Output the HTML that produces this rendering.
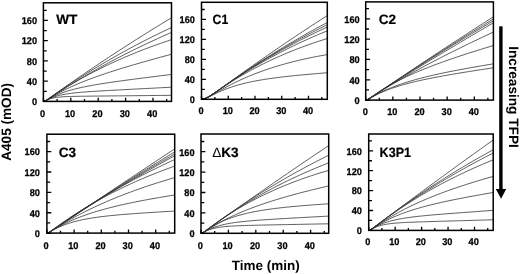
<!DOCTYPE html>
<html><head><meta charset="utf-8"><style>
html,body{margin:0;padding:0;background:#fff;}
body{width:520px;height:274px;overflow:hidden;}
svg{display:block;filter:grayscale(1) blur(0.35px);}
text{font-family:"Liberation Sans",sans-serif;font-weight:bold;fill:#000;text-rendering:geometricPrecision;}
.c{fill:none;stroke:#333;stroke-width:0.8;}
.t{fill:none;stroke:#000;stroke-width:1.3;}
.fr{fill:none;stroke:#000;stroke-width:1.5;}
.yl{font-size:9.2px;text-anchor:end;stroke:#000;stroke-width:0.25px;}
.xl{font-size:9.2px;text-anchor:middle;stroke:#000;stroke-width:0.25px;}
.ti{font-size:13.6px;stroke:#000;stroke-width:0.2px;}
.dl{font-weight:normal;stroke-width:0;}
.ax{font-size:13px;}
</style></head><body>
<svg width="520" height="274" viewBox="0 0 520 274">
<path d="M43.4,101.4 L45.57,100.62 L47.74,99.22 L49.91,97.7 L52.08,96.16 L54.26,94.61 L56.43,93.07 L58.6,91.53 L60.77,90 L62.94,88.47 L65.11,86.95 L67.28,85.43 L69.45,83.92 L71.63,82.41 L73.8,80.91 L75.97,79.41 L78.14,77.91 L80.31,76.42 L82.48,74.94 L84.65,73.46 L86.82,71.98 L88.99,70.51 L91.17,69.04 L93.34,67.58 L95.51,66.12 L97.68,64.66 L99.85,63.21 L102.02,61.77 L104.19,60.33 L106.36,58.89 L108.54,57.46 L110.71,56.03 L112.88,54.6 L115.05,53.19 L117.22,51.77 L119.39,50.36 L121.56,48.95 L123.73,47.55 L125.91,46.15 L128.08,44.76 L130.25,43.37 L132.42,41.99 L134.59,40.6 L136.76,39.23 L138.93,37.85 L141.1,36.49 L143.27,35.12 L145.45,33.76 L147.62,32.41 L149.79,31.05 L151.96,29.71 L154.13,28.36 L156.3,27.02 L158.47,25.69 L160.64,24.36 L162.82,23.03 L164.99,21.71 L167.16,20.39 L169.33,19.07 L171.5,17.76" class="c"/>
<path d="M43.4,101.4 L45.57,100.63 L47.74,99.24 L49.91,97.74 L52.08,96.22 L54.26,94.71 L56.43,93.21 L58.6,91.72 L60.77,90.24 L62.94,88.77 L65.11,87.31 L67.28,85.87 L69.45,84.43 L71.63,83 L73.8,81.59 L75.97,80.18 L78.14,78.79 L80.31,77.4 L82.48,76.03 L84.65,74.66 L86.82,73.31 L88.99,71.97 L91.17,70.63 L93.34,69.31 L95.51,67.99 L97.68,66.68 L99.85,65.39 L102.02,64.1 L104.19,62.82 L106.36,61.56 L108.54,60.3 L110.71,59.05 L112.88,57.81 L115.05,56.58 L117.22,55.35 L119.39,54.14 L121.56,52.93 L123.73,51.74 L125.91,50.55 L128.08,49.37 L130.25,48.2 L132.42,47.04 L134.59,45.89 L136.76,44.75 L138.93,43.61 L141.1,42.48 L143.27,41.36 L145.45,40.25 L147.62,39.15 L149.79,38.05 L151.96,36.97 L154.13,35.89 L156.3,34.82 L158.47,33.75 L160.64,32.7 L162.82,31.65 L164.99,30.61 L167.16,29.58 L169.33,28.55 L171.5,27.53" class="c"/>
<path d="M43.4,101.4 L45.57,100.66 L47.74,99.33 L49.91,97.9 L52.08,96.46 L54.26,95.02 L56.43,93.59 L58.6,92.18 L60.77,90.78 L62.94,89.4 L65.11,88.02 L67.28,86.66 L69.45,85.31 L71.63,83.97 L73.8,82.64 L75.97,81.32 L78.14,80.02 L80.31,78.72 L82.48,77.44 L84.65,76.16 L86.82,74.9 L88.99,73.65 L91.17,72.4 L93.34,71.17 L95.51,69.95 L97.68,68.74 L99.85,67.53 L102.02,66.34 L104.19,65.16 L106.36,63.98 L108.54,62.81 L110.71,61.66 L112.88,60.51 L115.05,59.37 L117.22,58.24 L119.39,57.11 L121.56,56 L123.73,54.89 L125.91,53.79 L128.08,52.7 L130.25,51.62 L132.42,50.54 L134.59,49.47 L136.76,48.41 L138.93,47.36 L141.1,46.31 L143.27,45.27 L145.45,44.24 L147.62,43.22 L149.79,42.2 L151.96,41.19 L154.13,40.18 L156.3,39.18 L158.47,38.19 L160.64,37.2 L162.82,36.22 L164.99,35.25 L167.16,34.28 L169.33,33.32 L171.5,32.36" class="c"/>
<path d="M43.4,101.4 L45.57,100.65 L47.74,99.32 L49.91,97.88 L52.08,96.43 L54.26,95 L56.43,93.58 L58.6,92.19 L60.77,90.81 L62.94,89.45 L65.11,88.1 L67.28,86.78 L69.45,85.47 L71.63,84.17 L73.8,82.9 L75.97,81.64 L78.14,80.4 L80.31,79.17 L82.48,77.96 L84.65,76.76 L86.82,75.58 L88.99,74.42 L91.17,73.27 L93.34,72.13 L95.51,71.01 L97.68,69.91 L99.85,68.81 L102.02,67.74 L104.19,66.67 L106.36,65.62 L108.54,64.58 L110.71,63.56 L112.88,62.55 L115.05,61.55 L117.22,60.57 L119.39,59.6 L121.56,58.64 L123.73,57.69 L125.91,56.76 L128.08,55.83 L130.25,54.92 L132.42,54.02 L134.59,53.14 L136.76,52.26 L138.93,51.39 L141.1,50.54 L143.27,49.7 L145.45,48.87 L147.62,48.05 L149.79,47.24 L151.96,46.43 L154.13,45.65 L156.3,44.87 L158.47,44.1 L160.64,43.34 L162.82,42.59 L164.99,41.85 L167.16,41.12 L169.33,40.39 L171.5,39.68" class="c"/>
<path d="M43.4,101.4 L45.57,100.68 L47.74,99.4 L49.91,98.06 L52.08,96.75 L54.26,95.47 L56.43,94.24 L58.6,93.04 L60.77,91.88 L62.94,90.76 L65.11,89.67 L67.28,88.61 L69.45,87.59 L71.63,86.59 L73.8,85.61 L75.97,84.66 L78.14,83.73 L80.31,82.83 L82.48,81.94 L84.65,81.08 L86.82,80.23 L88.99,79.4 L91.17,78.59 L93.34,77.79 L95.51,77 L97.68,76.23 L99.85,75.47 L102.02,74.72 L104.19,73.99 L106.36,73.26 L108.54,72.54 L110.71,71.84 L112.88,71.14 L115.05,70.45 L117.22,69.77 L119.39,69.09 L121.56,68.42 L123.73,67.76 L125.91,67.1 L128.08,66.45 L130.25,65.81 L132.42,65.17 L134.59,64.53 L136.76,63.9 L138.93,63.28 L141.1,62.65 L143.27,62.04 L145.45,61.42 L147.62,60.81 L149.79,60.2 L151.96,59.59 L154.13,58.99 L156.3,58.39 L158.47,57.79 L160.64,57.2 L162.82,56.6 L164.99,56.01 L167.16,55.42 L169.33,54.83 L171.5,54.24" class="c"/>
<path d="M43.4,101.4 L45.57,100.7 L47.74,99.5 L49.91,98.29 L52.08,97.16 L54.26,96.1 L56.43,95.12 L58.6,94.21 L60.77,93.36 L62.94,92.57 L65.11,91.83 L67.28,91.14 L69.45,90.49 L71.63,89.87 L73.8,89.29 L75.97,88.74 L78.14,88.22 L80.31,87.73 L82.48,87.25 L84.65,86.8 L86.82,86.36 L88.99,85.94 L91.17,85.54 L93.34,85.15 L95.51,84.77 L97.68,84.4 L99.85,84.04 L102.02,83.69 L104.19,83.35 L106.36,83.02 L108.54,82.69 L110.71,82.37 L112.88,82.05 L115.05,81.74 L117.22,81.44 L119.39,81.13 L121.56,80.83 L123.73,80.54 L125.91,80.24 L128.08,79.95 L130.25,79.67 L132.42,79.38 L134.59,79.1 L136.76,78.81 L138.93,78.53 L141.1,78.25 L143.27,77.97 L145.45,77.7 L147.62,77.42 L149.79,77.15 L151.96,76.87 L154.13,76.6 L156.3,76.33 L158.47,76.05 L160.64,75.78 L162.82,75.51 L164.99,75.24 L167.16,74.97 L169.33,74.7 L171.5,74.43" class="c"/>
<path d="M43.4,101.4 L45.57,100.71 L47.74,99.59 L49.91,98.54 L52.08,97.63 L54.26,96.83 L56.43,96.15 L58.6,95.56 L60.77,95.04 L62.94,94.59 L65.11,94.19 L67.28,93.84 L69.45,93.53 L71.63,93.25 L73.8,92.99 L75.97,92.76 L78.14,92.55 L80.31,92.35 L82.48,92.17 L84.65,92 L86.82,91.84 L88.99,91.68 L91.17,91.53 L93.34,91.39 L95.51,91.26 L97.68,91.12 L99.85,90.99 L102.02,90.87 L104.19,90.74 L106.36,90.62 L108.54,90.5 L110.71,90.38 L112.88,90.26 L115.05,90.15 L117.22,90.03 L119.39,89.91 L121.56,89.8 L123.73,89.68 L125.91,89.57 L128.08,89.46 L130.25,89.34 L132.42,89.23 L134.59,89.12 L136.76,89 L138.93,88.89 L141.1,88.78 L143.27,88.67 L145.45,88.55 L147.62,88.44 L149.79,88.33 L151.96,88.22 L154.13,88.11 L156.3,87.99 L158.47,87.88 L160.64,87.77 L162.82,87.66 L164.99,87.55 L167.16,87.43 L169.33,87.32 L171.5,87.21" class="c"/>
<path d="M43.4,101.4 L45.57,100.72 L47.74,99.73 L49.91,98.9 L52.08,98.27 L54.26,97.8 L56.43,97.44 L58.6,97.17 L60.77,96.96 L62.94,96.8 L65.11,96.68 L67.28,96.58 L69.45,96.51 L71.63,96.44 L73.8,96.39 L75.97,96.35 L78.14,96.31 L80.31,96.27 L82.48,96.24 L84.65,96.21 L86.82,96.19 L88.99,96.16 L91.17,96.14 L93.34,96.11 L95.51,96.09 L97.68,96.07 L99.85,96.05 L102.02,96.02 L104.19,96 L106.36,95.98 L108.54,95.96 L110.71,95.93 L112.88,95.91 L115.05,95.89 L117.22,95.87 L119.39,95.85 L121.56,95.83 L123.73,95.8 L125.91,95.78 L128.08,95.76 L130.25,95.74 L132.42,95.72 L134.59,95.7 L136.76,95.67 L138.93,95.65 L141.1,95.63 L143.27,95.61 L145.45,95.59 L147.62,95.57 L149.79,95.54 L151.96,95.52 L154.13,95.5 L156.3,95.48 L158.47,95.46 L160.64,95.44 L162.82,95.41 L164.99,95.39 L167.16,95.37 L169.33,95.35 L171.5,95.33" class="c"/>
<path d="M43.4,101.4h4.4 M43.4,91.28h3.3 M43.4,81.16h4.4 M43.4,71.04h3.3 M43.4,60.92h4.4 M43.4,50.8h3.3 M43.4,40.68h4.4 M43.4,30.56h3.3 M43.4,20.44h4.4 M43.4,10.32h3.3 M43.4,101.4v-3.6 M57.1,101.4v-2.3 M70.8,101.4v-3.6 M84.5,101.4v-2.3 M98.2,101.4v-3.6 M111.9,101.4v-2.3 M125.6,101.4v-3.6 M139.3,101.4v-2.3 M153,101.4v-3.6 M166.7,101.4v-2.3" class="t"/>
<rect x="43.4" y="2.8" width="128.1" height="98.6" class="fr"/>
<text transform="translate(37,105.2) scale(1,1.07)" class="yl">0</text>
<text transform="translate(37,84.96) scale(1,1.07)" class="yl">40</text>
<text transform="translate(37,64.72) scale(1,1.07)" class="yl">80</text>
<text transform="translate(37,44.48) scale(1,1.07)" class="yl">120</text>
<text transform="translate(37,24.24) scale(1,1.07)" class="yl">160</text>
<text transform="translate(42.6,117.3) scale(1,1.07)" class="xl">0</text>
<text transform="translate(70,117.3) scale(1,1.07)" class="xl">10</text>
<text transform="translate(97.4,117.3) scale(1,1.07)" class="xl">20</text>
<text transform="translate(124.8,117.3) scale(1,1.07)" class="xl">30</text>
<text transform="translate(152.2,117.3) scale(1,1.07)" class="xl">40</text>
<text x="56.2" y="24.3" class="ti">WT</text>
<path d="M201.5,99.3 L203.63,98.99 L205.76,98.23 L207.9,97.17 L210.03,95.93 L212.16,94.57 L214.29,93.13 L216.43,91.65 L218.56,90.14 L220.69,88.61 L222.82,87.07 L224.95,85.53 L227.09,83.99 L229.22,82.45 L231.35,80.91 L233.48,79.37 L235.62,77.84 L237.75,76.31 L239.88,74.78 L242.01,73.26 L244.14,71.74 L246.28,70.23 L248.41,68.72 L250.54,67.21 L252.67,65.71 L254.81,64.21 L256.94,62.71 L259.07,61.22 L261.2,59.73 L263.33,58.25 L265.47,56.77 L267.6,55.3 L269.73,53.83 L271.86,52.36 L273.99,50.89 L276.13,49.44 L278.26,47.98 L280.39,46.53 L282.52,45.08 L284.66,43.64 L286.79,42.2 L288.92,40.76 L291.05,39.33 L293.18,37.9 L295.32,36.47 L297.45,35.05 L299.58,33.63 L301.71,32.22 L303.85,30.81 L305.98,29.41 L308.11,28 L310.24,26.6 L312.37,25.21 L314.51,23.82 L316.64,22.43 L318.77,21.05 L320.9,19.67 L323.04,18.29 L325.17,16.92 L327.3,15.55" class="c"/>
<path d="M201.5,99.3 L203.63,98.99 L205.76,98.22 L207.9,97.16 L210.03,95.91 L212.16,94.55 L214.29,93.12 L216.43,91.65 L218.56,90.15 L220.69,88.64 L222.82,87.13 L224.95,85.62 L227.09,84.12 L229.22,82.62 L231.35,81.12 L233.48,79.64 L235.62,78.16 L237.75,76.69 L239.88,75.23 L242.01,73.78 L244.14,72.34 L246.28,70.9 L248.41,69.48 L250.54,68.06 L252.67,66.66 L254.81,65.26 L256.94,63.87 L259.07,62.48 L261.2,61.11 L263.33,59.74 L265.47,58.39 L267.6,57.04 L269.73,55.7 L271.86,54.37 L273.99,53.04 L276.13,51.73 L278.26,50.42 L280.39,49.12 L282.52,47.83 L284.66,46.54 L286.79,45.27 L288.92,44 L291.05,42.74 L293.18,41.48 L295.32,40.24 L297.45,39 L299.58,37.77 L301.71,36.55 L303.85,35.33 L305.98,34.13 L308.11,32.93 L310.24,31.73 L312.37,30.55 L314.51,29.37 L316.64,28.2 L318.77,27.03 L320.9,25.88 L323.04,24.73 L325.17,23.59 L327.3,22.45" class="c"/>
<path d="M201.5,99.3 L203.63,98.99 L205.76,98.22 L207.9,97.15 L210.03,95.9 L212.16,94.54 L214.29,93.11 L216.43,91.64 L218.56,90.14 L220.69,88.64 L222.82,87.14 L224.95,85.64 L227.09,84.14 L229.22,82.66 L231.35,81.18 L233.48,79.71 L235.62,78.25 L237.75,76.8 L239.88,75.37 L242.01,73.94 L244.14,72.52 L246.28,71.11 L248.41,69.72 L250.54,68.33 L252.67,66.96 L254.81,65.59 L256.94,64.24 L259.07,62.89 L261.2,61.56 L263.33,60.23 L265.47,58.91 L267.6,57.61 L269.73,56.31 L271.86,55.03 L273.99,53.75 L276.13,52.48 L278.26,51.22 L280.39,49.97 L282.52,48.73 L284.66,47.5 L286.79,46.28 L288.92,45.07 L291.05,43.87 L293.18,42.67 L295.32,41.49 L297.45,40.31 L299.58,39.14 L301.71,37.98 L303.85,36.83 L305.98,35.69 L308.11,34.56 L310.24,33.43 L312.37,32.31 L314.51,31.2 L316.64,30.1 L318.77,29.01 L320.9,27.93 L323.04,26.85 L325.17,25.78 L327.3,24.72" class="c"/>
<path d="M201.5,99.3 L203.63,98.99 L205.76,98.21 L207.9,97.14 L210.03,95.89 L212.16,94.52 L214.29,93.09 L216.43,91.62 L218.56,90.13 L220.69,88.63 L222.82,87.14 L224.95,85.65 L227.09,84.16 L229.22,82.69 L231.35,81.23 L233.48,79.77 L235.62,78.34 L237.75,76.91 L239.88,75.49 L242.01,74.09 L244.14,72.7 L246.28,71.32 L248.41,69.96 L250.54,68.61 L252.67,67.26 L254.81,65.93 L256.94,64.62 L259.07,63.31 L261.2,62.01 L263.33,60.73 L265.47,59.46 L267.6,58.2 L269.73,56.95 L271.86,55.71 L273.99,54.48 L276.13,53.27 L278.26,52.06 L280.39,50.86 L282.52,49.68 L284.66,48.51 L286.79,47.34 L288.92,46.19 L291.05,45.05 L293.18,43.91 L295.32,42.79 L297.45,41.68 L299.58,40.57 L301.71,39.48 L303.85,38.39 L305.98,37.32 L308.11,36.26 L310.24,35.2 L312.37,34.15 L314.51,33.12 L316.64,32.09 L318.77,31.07 L320.9,30.06 L323.04,29.06 L325.17,28.07 L327.3,27.09" class="c"/>
<path d="M201.5,99.3 L203.63,98.99 L205.76,98.21 L207.9,97.13 L210.03,95.88 L212.16,94.51 L214.29,93.08 L216.43,91.62 L218.56,90.14 L220.69,88.66 L222.82,87.18 L224.95,85.71 L227.09,84.25 L229.22,82.8 L231.35,81.37 L233.48,79.95 L235.62,78.55 L237.75,77.16 L239.88,75.79 L242.01,74.43 L244.14,73.08 L246.28,71.75 L248.41,70.44 L250.54,69.14 L252.67,67.86 L254.81,66.59 L256.94,65.33 L259.07,64.09 L261.2,62.86 L263.33,61.64 L265.47,60.44 L267.6,59.25 L269.73,58.08 L271.86,56.92 L273.99,55.77 L276.13,54.63 L278.26,53.51 L280.39,52.39 L282.52,51.29 L284.66,50.21 L286.79,49.13 L288.92,48.07 L291.05,47.02 L293.18,45.98 L295.32,44.95 L297.45,43.94 L299.58,42.93 L301.71,41.94 L303.85,40.95 L305.98,39.98 L308.11,39.02 L310.24,38.07 L312.37,37.13 L314.51,36.2 L316.64,35.28 L318.77,34.37 L320.9,33.47 L323.04,32.58 L325.17,31.7 L327.3,30.83" class="c"/>
<path d="M201.5,99.3 L203.63,98.99 L205.76,98.21 L207.9,97.14 L210.03,95.89 L212.16,94.54 L214.29,93.13 L216.43,91.7 L218.56,90.26 L220.69,88.82 L222.82,87.39 L224.95,85.97 L227.09,84.58 L229.22,83.2 L231.35,81.84 L233.48,80.5 L235.62,79.18 L237.75,77.89 L239.88,76.61 L242.01,75.35 L244.14,74.12 L246.28,72.9 L248.41,71.7 L250.54,70.52 L252.67,69.36 L254.81,68.22 L256.94,67.1 L259.07,65.99 L261.2,64.9 L263.33,63.83 L265.47,62.78 L267.6,61.74 L269.73,60.72 L271.86,59.72 L273.99,58.73 L276.13,57.76 L278.26,56.8 L280.39,55.86 L282.52,54.93 L284.66,54.02 L286.79,53.12 L288.92,52.24 L291.05,51.37 L293.18,50.51 L295.32,49.67 L297.45,48.84 L299.58,48.03 L301.71,47.23 L303.85,46.44 L305.98,45.66 L308.11,44.89 L310.24,44.14 L312.37,43.4 L314.51,42.67 L316.64,41.96 L318.77,41.25 L320.9,40.55 L323.04,39.87 L325.17,39.2 L327.3,38.54" class="c"/>
<path d="M201.5,99.3 L203.63,99.02 L205.76,98.32 L207.9,97.37 L210.03,96.27 L212.16,95.08 L214.29,93.86 L216.43,92.62 L218.56,91.38 L220.69,90.16 L222.82,88.95 L224.95,87.77 L227.09,86.62 L229.22,85.49 L231.35,84.38 L233.48,83.3 L235.62,82.25 L237.75,81.22 L239.88,80.22 L242.01,79.24 L244.14,78.29 L246.28,77.36 L248.41,76.45 L250.54,75.56 L252.67,74.7 L254.81,73.85 L256.94,73.03 L259.07,72.22 L261.2,71.44 L263.33,70.68 L265.47,69.93 L267.6,69.2 L269.73,68.49 L271.86,67.8 L273.99,67.12 L276.13,66.46 L278.26,65.81 L280.39,65.19 L282.52,64.57 L284.66,63.97 L286.79,63.39 L288.92,62.82 L291.05,62.26 L293.18,61.72 L295.32,61.19 L297.45,60.67 L299.58,60.16 L301.71,59.67 L303.85,59.19 L305.98,58.72 L308.11,58.26 L310.24,57.81 L312.37,57.37 L314.51,56.94 L316.64,56.53 L318.77,56.12 L320.9,55.72 L323.04,55.33 L325.17,54.95 L327.3,54.58" class="c"/>
<path d="M201.5,99.3 L203.63,99.02 L205.76,98.34 L207.9,97.42 L210.03,96.39 L212.16,95.32 L214.29,94.25 L216.43,93.2 L218.56,92.18 L220.69,91.22 L222.82,90.3 L224.95,89.43 L227.09,88.6 L229.22,87.82 L231.35,87.08 L233.48,86.38 L235.62,85.72 L237.75,85.1 L239.88,84.5 L242.01,83.94 L244.14,83.4 L246.28,82.9 L248.41,82.41 L250.54,81.95 L252.67,81.51 L254.81,81.09 L256.94,80.69 L259.07,80.31 L261.2,79.94 L263.33,79.59 L265.47,79.25 L267.6,78.93 L269.73,78.62 L271.86,78.32 L273.99,78.03 L276.13,77.75 L278.26,77.48 L280.39,77.21 L282.52,76.96 L284.66,76.71 L286.79,76.47 L288.92,76.24 L291.05,76.01 L293.18,75.79 L295.32,75.57 L297.45,75.36 L299.58,75.15 L301.71,74.95 L303.85,74.75 L305.98,74.56 L308.11,74.37 L310.24,74.18 L312.37,73.99 L314.51,73.81 L316.64,73.63 L318.77,73.45 L320.9,73.28 L323.04,73.1 L325.17,72.93 L327.3,72.76" class="c"/>
<path d="M201.5,99.3h4.4 M201.5,89.32h3.3 M201.5,79.34h4.4 M201.5,69.36h3.3 M201.5,59.38h4.4 M201.5,49.4h3.3 M201.5,39.42h4.4 M201.5,29.44h3.3 M201.5,19.46h4.4 M201.5,9.48h3.3 M201.5,99.3v-3.6 M214.88,99.3v-2.3 M228.25,99.3v-3.6 M241.62,99.3v-2.3 M255,99.3v-3.6 M268.38,99.3v-2.3 M281.75,99.3v-3.6 M295.12,99.3v-2.3 M308.5,99.3v-3.6 M321.88,99.3v-2.3" class="t"/>
<rect x="201.5" y="2.3" width="125.8" height="97" class="fr"/>
<text transform="translate(194.9,103.1) scale(1,1.07)" class="yl">0</text>
<text transform="translate(194.9,83.14) scale(1,1.07)" class="yl">40</text>
<text transform="translate(194.9,63.18) scale(1,1.07)" class="yl">80</text>
<text transform="translate(194.9,43.22) scale(1,1.07)" class="yl">120</text>
<text transform="translate(194.9,23.26) scale(1,1.07)" class="yl">160</text>
<text transform="translate(201.1,114.3) scale(1,1.07)" class="xl">0</text>
<text transform="translate(227.85,114.3) scale(1,1.07)" class="xl">10</text>
<text transform="translate(254.6,114.3) scale(1,1.07)" class="xl">20</text>
<text transform="translate(281.35,114.3) scale(1,1.07)" class="xl">30</text>
<text transform="translate(308.1,114.3) scale(1,1.07)" class="xl">40</text>
<text x="212.6" y="24.3" class="ti" textLength="15.6" lengthAdjust="spacingAndGlyphs">C1</text>
<path d="M365.7,100.1 L367.86,99.36 L370.03,98.04 L372.19,96.6 L374.36,95.14 L376.52,93.68 L378.69,92.22 L380.85,90.75 L383.02,89.29 L385.18,87.83 L387.34,86.37 L389.51,84.92 L391.67,83.46 L393.84,82.01 L396,80.56 L398.17,79.11 L400.33,77.66 L402.49,76.21 L404.66,74.77 L406.82,73.32 L408.99,71.88 L411.15,70.44 L413.32,69 L415.48,67.56 L417.65,66.12 L419.81,64.69 L421.97,63.26 L424.14,61.82 L426.3,60.39 L428.47,58.97 L430.63,57.54 L432.8,56.11 L434.96,54.69 L437.13,53.26 L439.29,51.84 L441.45,50.42 L443.62,49 L445.78,47.59 L447.95,46.17 L450.11,44.76 L452.28,43.35 L454.44,41.93 L456.61,40.53 L458.77,39.12 L460.93,37.71 L463.1,36.31 L465.26,34.9 L467.43,33.5 L469.59,32.1 L471.76,30.7 L473.92,29.3 L476.08,27.91 L478.25,26.51 L480.41,25.12 L482.58,23.73 L484.74,22.34 L486.91,20.95 L489.07,19.56 L491.24,18.18 L493.4,16.79" class="c"/>
<path d="M365.7,100.1 L367.86,99.37 L370.03,98.06 L372.19,96.63 L374.36,95.18 L376.52,93.73 L378.69,92.28 L380.85,90.83 L383.02,89.39 L385.18,87.94 L387.34,86.5 L389.51,85.07 L391.67,83.63 L393.84,82.2 L396,80.77 L398.17,79.34 L400.33,77.92 L402.49,76.49 L404.66,75.07 L406.82,73.66 L408.99,72.24 L411.15,70.83 L413.32,69.42 L415.48,68.01 L417.65,66.61 L419.81,65.2 L421.97,63.8 L424.14,62.41 L426.3,61.01 L428.47,59.62 L430.63,58.23 L432.8,56.84 L434.96,55.45 L437.13,54.07 L439.29,52.69 L441.45,51.31 L443.62,49.94 L445.78,48.56 L447.95,47.19 L450.11,45.82 L452.28,44.46 L454.44,43.09 L456.61,41.73 L458.77,40.37 L460.93,39.02 L463.1,37.66 L465.26,36.31 L467.43,34.96 L469.59,33.61 L471.76,32.27 L473.92,30.92 L476.08,29.58 L478.25,28.25 L480.41,26.91 L482.58,25.58 L484.74,24.25 L486.91,22.92 L489.07,21.59 L491.24,20.27 L493.4,18.95" class="c"/>
<path d="M365.7,100.1 L367.86,99.37 L370.03,98.07 L372.19,96.65 L374.36,95.22 L376.52,93.78 L378.69,92.34 L380.85,90.91 L383.02,89.48 L385.18,88.06 L387.34,86.63 L389.51,85.21 L391.67,83.8 L393.84,82.38 L396,80.97 L398.17,79.57 L400.33,78.17 L402.49,76.77 L404.66,75.37 L406.82,73.98 L408.99,72.59 L411.15,71.2 L413.32,69.82 L415.48,68.44 L417.65,67.06 L419.81,65.69 L421.97,64.32 L424.14,62.95 L426.3,61.58 L428.47,60.22 L430.63,58.87 L432.8,57.51 L434.96,56.16 L437.13,54.81 L439.29,53.47 L441.45,52.12 L443.62,50.79 L445.78,49.45 L447.95,48.12 L450.11,46.79 L452.28,45.46 L454.44,44.14 L456.61,42.82 L458.77,41.5 L460.93,40.19 L463.1,38.88 L465.26,37.57 L467.43,36.27 L469.59,34.96 L471.76,33.67 L473.92,32.37 L476.08,31.08 L478.25,29.79 L480.41,28.5 L482.58,27.22 L484.74,25.94 L486.91,24.66 L489.07,23.39 L491.24,22.12 L493.4,20.85" class="c"/>
<path d="M365.7,100.1 L367.86,99.38 L370.03,98.1 L372.19,96.7 L374.36,95.29 L376.52,93.88 L378.69,92.48 L380.85,91.08 L383.02,89.68 L385.18,88.3 L387.34,86.91 L389.51,85.54 L391.67,84.17 L393.84,82.8 L396,81.44 L398.17,80.08 L400.33,78.72 L402.49,77.37 L404.66,76.03 L406.82,74.68 L408.99,73.34 L411.15,72.01 L413.32,70.67 L415.48,69.35 L417.65,68.02 L419.81,66.69 L421.97,65.37 L424.14,64.06 L426.3,62.74 L428.47,61.43 L430.63,60.12 L432.8,58.81 L434.96,57.5 L437.13,56.2 L439.29,54.89 L441.45,53.59 L443.62,52.29 L445.78,51 L447.95,49.7 L450.11,48.41 L452.28,47.12 L454.44,45.83 L456.61,44.54 L458.77,43.25 L460.93,41.96 L463.1,40.68 L465.26,39.39 L467.43,38.11 L469.59,36.83 L471.76,35.55 L473.92,34.27 L476.08,32.99 L478.25,31.71 L480.41,30.43 L482.58,29.16 L484.74,27.88 L486.91,26.61 L489.07,25.34 L491.24,24.06 L493.4,22.79" class="c"/>
<path d="M365.7,100.1 L367.86,99.38 L370.03,98.1 L372.19,96.72 L374.36,95.33 L376.52,93.95 L378.69,92.58 L380.85,91.23 L383.02,89.89 L385.18,88.56 L387.34,87.24 L389.51,85.93 L391.67,84.63 L393.84,83.35 L396,82.08 L398.17,80.81 L400.33,79.56 L402.49,78.31 L404.66,77.08 L406.82,75.85 L408.99,74.64 L411.15,73.43 L413.32,72.23 L415.48,71.04 L417.65,69.86 L419.81,68.68 L421.97,67.51 L424.14,66.35 L426.3,65.2 L428.47,64.05 L430.63,62.91 L432.8,61.78 L434.96,60.65 L437.13,59.53 L439.29,58.41 L441.45,57.3 L443.62,56.2 L445.78,55.1 L447.95,54.01 L450.11,52.92 L452.28,51.84 L454.44,50.76 L456.61,49.69 L458.77,48.62 L460.93,47.55 L463.1,46.49 L465.26,45.44 L467.43,44.39 L469.59,43.34 L471.76,42.3 L473.92,41.26 L476.08,40.22 L478.25,39.19 L480.41,38.16 L482.58,37.13 L484.74,36.11 L486.91,35.09 L489.07,34.07 L491.24,33.06 L493.4,32.05" class="c"/>
<path d="M365.7,100.1 L367.86,99.29 L370.03,97.86 L372.19,96.34 L374.36,94.85 L376.52,93.39 L378.69,91.97 L380.85,90.6 L383.02,89.26 L385.18,87.96 L387.34,86.69 L389.51,85.45 L391.67,84.25 L393.84,83.08 L396,81.93 L398.17,80.81 L400.33,79.72 L402.49,78.65 L404.66,77.6 L406.82,76.57 L408.99,75.57 L411.15,74.58 L413.32,73.62 L415.48,72.67 L417.65,71.74 L419.81,70.83 L421.97,69.93 L424.14,69.05 L426.3,68.18 L428.47,67.32 L430.63,66.48 L432.8,65.65 L434.96,64.83 L437.13,64.02 L439.29,63.22 L441.45,62.43 L443.62,61.65 L445.78,60.88 L447.95,60.12 L450.11,59.37 L452.28,58.62 L454.44,57.88 L456.61,57.15 L458.77,56.43 L460.93,55.71 L463.1,55 L465.26,54.29 L467.43,53.59 L469.59,52.89 L471.76,52.2 L473.92,51.52 L476.08,50.84 L478.25,50.16 L480.41,49.48 L482.58,48.82 L484.74,48.15 L486.91,47.49 L489.07,46.83 L491.24,46.17 L493.4,45.52" class="c"/>
<path d="M365.7,100.1 L367.86,99.41 L370.03,98.2 L372.19,96.94 L374.36,95.71 L376.52,94.53 L378.69,93.4 L380.85,92.32 L383.02,91.29 L385.18,90.29 L387.34,89.34 L389.51,88.42 L391.67,87.54 L393.84,86.69 L396,85.88 L398.17,85.09 L400.33,84.33 L402.49,83.59 L404.66,82.88 L406.82,82.19 L408.99,81.52 L411.15,80.88 L413.32,80.25 L415.48,79.64 L417.65,79.04 L419.81,78.46 L421.97,77.9 L424.14,77.35 L426.3,76.82 L428.47,76.29 L430.63,75.78 L432.8,75.28 L434.96,74.79 L437.13,74.31 L439.29,73.83 L441.45,73.37 L443.62,72.91 L445.78,72.47 L447.95,72.03 L450.11,71.59 L452.28,71.16 L454.44,70.74 L456.61,70.32 L458.77,69.91 L460.93,69.51 L463.1,69.1 L465.26,68.71 L467.43,68.31 L469.59,67.92 L471.76,67.54 L473.92,67.15 L476.08,66.78 L478.25,66.4 L480.41,66.03 L482.58,65.65 L484.74,65.29 L486.91,64.92 L489.07,64.56 L491.24,64.19 L493.4,63.83" class="c"/>
<path d="M365.7,100.1 L367.86,99.42 L370.03,98.25 L372.19,97.03 L374.36,95.86 L376.52,94.75 L378.69,93.7 L380.85,92.7 L383.02,91.76 L385.18,90.85 L387.34,89.99 L389.51,89.17 L391.67,88.39 L393.84,87.64 L396,86.92 L398.17,86.24 L400.33,85.57 L402.49,84.94 L404.66,84.33 L406.82,83.73 L408.99,83.16 L411.15,82.61 L413.32,82.08 L415.48,81.56 L417.65,81.05 L419.81,80.56 L421.97,80.08 L424.14,79.62 L426.3,79.16 L428.47,78.72 L430.63,78.28 L432.8,77.85 L434.96,77.43 L437.13,77.02 L439.29,76.62 L441.45,76.22 L443.62,75.83 L445.78,75.44 L447.95,75.06 L450.11,74.68 L452.28,74.31 L454.44,73.94 L456.61,73.58 L458.77,73.22 L460.93,72.86 L463.1,72.5 L465.26,72.15 L467.43,71.8 L469.59,71.46 L471.76,71.11 L473.92,70.77 L476.08,70.43 L478.25,70.09 L480.41,69.75 L482.58,69.41 L484.74,69.08 L486.91,68.75 L489.07,68.41 L491.24,68.08 L493.4,67.75" class="c"/>
<path d="M365.7,100.1h4.4 M365.7,89.94h3.3 M365.7,79.78h4.4 M365.7,69.62h3.3 M365.7,59.46h4.4 M365.7,49.3h3.3 M365.7,39.14h4.4 M365.7,28.98h3.3 M365.7,18.82h4.4 M365.7,8.66h3.3 M365.7,100.1v-3.6 M379.27,100.1v-2.3 M392.85,100.1v-3.6 M406.42,100.1v-2.3 M420,100.1v-3.6 M433.57,100.1v-2.3 M447.15,100.1v-3.6 M460.72,100.1v-2.3 M474.3,100.1v-3.6 M487.88,100.1v-2.3" class="t"/>
<rect x="365.7" y="1.9" width="127.7" height="98.2" class="fr"/>
<text transform="translate(359.7,103.9) scale(1,1.07)" class="yl">0</text>
<text transform="translate(359.7,83.58) scale(1,1.07)" class="yl">40</text>
<text transform="translate(359.7,63.26) scale(1,1.07)" class="yl">80</text>
<text transform="translate(359.7,42.94) scale(1,1.07)" class="yl">120</text>
<text transform="translate(359.7,22.62) scale(1,1.07)" class="yl">160</text>
<text transform="translate(365.2,115.3) scale(1,1.07)" class="xl">0</text>
<text transform="translate(392.35,115.3) scale(1,1.07)" class="xl">10</text>
<text transform="translate(419.5,115.3) scale(1,1.07)" class="xl">20</text>
<text transform="translate(446.65,115.3) scale(1,1.07)" class="xl">30</text>
<text transform="translate(473.8,115.3) scale(1,1.07)" class="xl">40</text>
<text x="378.7" y="24.3" class="ti">C2</text>
<path d="M46.9,233.1 L49.07,232.37 L51.23,231.06 L53.4,229.63 L55.56,228.18 L57.73,226.73 L59.9,225.27 L62.06,223.81 L64.23,222.36 L66.39,220.9 L68.56,219.45 L70.73,218 L72.89,216.54 L75.06,215.09 L77.23,213.64 L79.39,212.19 L81.56,210.74 L83.72,209.29 L85.89,207.84 L88.06,206.39 L90.22,204.94 L92.39,203.49 L94.55,202.05 L96.72,200.6 L98.89,199.15 L101.05,197.71 L103.22,196.26 L105.38,194.82 L107.55,193.38 L109.72,191.93 L111.88,190.49 L114.05,189.05 L116.22,187.61 L118.38,186.17 L120.55,184.72 L122.71,183.28 L124.88,181.85 L127.05,180.41 L129.21,178.97 L131.38,177.53 L133.54,176.09 L135.71,174.66 L137.88,173.22 L140.04,171.78 L142.21,170.35 L144.37,168.91 L146.54,167.48 L148.71,166.05 L150.87,164.61 L153.04,163.18 L155.21,161.75 L157.37,160.32 L159.54,158.89 L161.7,157.46 L163.87,156.03 L166.04,154.6 L168.2,153.17 L170.37,151.74 L172.53,150.31 L174.7,148.88" class="c"/>
<path d="M46.9,233.1 L49.07,232.36 L51.23,231.03 L53.4,229.58 L55.56,228.12 L57.73,226.65 L59.9,225.18 L62.06,223.72 L64.23,222.26 L66.39,220.8 L68.56,219.35 L70.73,217.9 L72.89,216.45 L75.06,215 L77.23,213.56 L79.39,212.13 L81.56,210.69 L83.72,209.26 L85.89,207.83 L88.06,206.41 L90.22,204.99 L92.39,203.57 L94.55,202.15 L96.72,200.74 L98.89,199.33 L101.05,197.93 L103.22,196.52 L105.38,195.13 L107.55,193.73 L109.72,192.34 L111.88,190.95 L114.05,189.56 L116.22,188.18 L118.38,186.8 L120.55,185.42 L122.71,184.04 L124.88,182.67 L127.05,181.3 L129.21,179.94 L131.38,178.58 L133.54,177.22 L135.71,175.86 L137.88,174.51 L140.04,173.16 L142.21,171.81 L144.37,170.47 L146.54,169.13 L148.71,167.79 L150.87,166.46 L153.04,165.12 L155.21,163.8 L157.37,162.47 L159.54,161.15 L161.7,159.83 L163.87,158.51 L166.04,157.2 L168.2,155.89 L170.37,154.58 L172.53,153.27 L174.7,151.97" class="c"/>
<path d="M46.9,233.1 L49.07,232.35 L51.23,231.02 L53.4,229.57 L55.56,228.1 L57.73,226.62 L59.9,225.16 L62.06,223.69 L64.23,222.24 L66.39,220.78 L68.56,219.34 L70.73,217.89 L72.89,216.45 L75.06,215.02 L77.23,213.59 L79.39,212.17 L81.56,210.75 L83.72,209.34 L85.89,207.93 L88.06,206.52 L90.22,205.12 L92.39,203.73 L94.55,202.34 L96.72,200.95 L98.89,199.57 L101.05,198.19 L103.22,196.82 L105.38,195.45 L107.55,194.09 L109.72,192.73 L111.88,191.38 L114.05,190.03 L116.22,188.69 L118.38,187.35 L120.55,186.01 L122.71,184.68 L124.88,183.35 L127.05,182.03 L129.21,180.72 L131.38,179.4 L133.54,178.09 L135.71,176.79 L137.88,175.49 L140.04,174.2 L142.21,172.9 L144.37,171.62 L146.54,170.34 L148.71,169.06 L150.87,167.78 L153.04,166.52 L155.21,165.25 L157.37,163.99 L159.54,162.73 L161.7,161.48 L163.87,160.23 L166.04,158.99 L168.2,157.75 L170.37,156.51 L172.53,155.28 L174.7,154.06" class="c"/>
<path d="M46.9,233.1 L49.07,232.36 L51.23,231.04 L53.4,229.6 L55.56,228.14 L57.73,226.68 L59.9,225.23 L62.06,223.78 L64.23,222.34 L66.39,220.91 L68.56,219.48 L70.73,218.05 L72.89,216.63 L75.06,215.22 L77.23,213.81 L79.39,212.41 L81.56,211.01 L83.72,209.62 L85.89,208.23 L88.06,206.85 L90.22,205.48 L92.39,204.1 L94.55,202.74 L96.72,201.38 L98.89,200.02 L101.05,198.68 L103.22,197.33 L105.38,195.99 L107.55,194.66 L109.72,193.33 L111.88,192.01 L114.05,190.69 L116.22,189.37 L118.38,188.07 L120.55,186.76 L122.71,185.46 L124.88,184.17 L127.05,182.88 L129.21,181.6 L131.38,180.32 L133.54,179.05 L135.71,177.78 L137.88,176.52 L140.04,175.26 L142.21,174 L144.37,172.76 L146.54,171.51 L148.71,170.27 L150.87,169.04 L153.04,167.81 L155.21,166.58 L157.37,165.36 L159.54,164.15 L161.7,162.94 L163.87,161.73 L166.04,160.53 L168.2,159.33 L170.37,158.14 L172.53,156.95 L174.7,155.77" class="c"/>
<path d="M46.9,233.1 L49.07,232.31 L51.23,230.9 L53.4,229.38 L55.56,227.84 L57.73,226.31 L59.9,224.79 L62.06,223.28 L64.23,221.78 L66.39,220.3 L68.56,218.83 L70.73,217.37 L72.89,215.92 L75.06,214.48 L77.23,213.06 L79.39,211.64 L81.56,210.24 L83.72,208.85 L85.89,207.47 L88.06,206.1 L90.22,204.75 L92.39,203.4 L94.55,202.07 L96.72,200.74 L98.89,199.43 L101.05,198.13 L103.22,196.83 L105.38,195.55 L107.55,194.28 L109.72,193.02 L111.88,191.77 L114.05,190.53 L116.22,189.3 L118.38,188.07 L120.55,186.86 L122.71,185.66 L124.88,184.47 L127.05,183.29 L129.21,182.12 L131.38,180.95 L133.54,179.8 L135.71,178.66 L137.88,177.52 L140.04,176.4 L142.21,175.28 L144.37,174.17 L146.54,173.07 L148.71,171.98 L150.87,170.9 L153.04,169.83 L155.21,168.77 L157.37,167.71 L159.54,166.67 L161.7,165.63 L163.87,164.6 L166.04,163.58 L168.2,162.56 L170.37,161.56 L172.53,160.56 L174.7,159.57" class="c"/>
<path d="M46.9,233.1 L49.07,232.28 L51.23,230.82 L53.4,229.25 L55.56,227.67 L57.73,226.11 L59.9,224.57 L62.06,223.04 L64.23,221.54 L66.39,220.06 L68.56,218.59 L70.73,217.15 L72.89,215.72 L75.06,214.32 L77.23,212.93 L79.39,211.56 L81.56,210.2 L83.72,208.87 L85.89,207.55 L88.06,206.25 L90.22,204.97 L92.39,203.71 L94.55,202.46 L96.72,201.22 L98.89,200.01 L101.05,198.81 L103.22,197.62 L105.38,196.45 L107.55,195.3 L109.72,194.16 L111.88,193.03 L114.05,191.93 L116.22,190.83 L118.38,189.75 L120.55,188.68 L122.71,187.63 L124.88,186.59 L127.05,185.57 L129.21,184.56 L131.38,183.56 L133.54,182.58 L135.71,181.6 L137.88,180.64 L140.04,179.7 L142.21,178.76 L144.37,177.84 L146.54,176.93 L148.71,176.03 L150.87,175.15 L153.04,174.27 L155.21,173.41 L157.37,172.56 L159.54,171.72 L161.7,170.89 L163.87,170.07 L166.04,169.26 L168.2,168.47 L170.37,167.68 L172.53,166.9 L174.7,166.14" class="c"/>
<path d="M46.9,233.1 L49.07,232.37 L51.23,231.09 L53.4,229.7 L55.56,228.32 L57.73,226.96 L59.9,225.63 L62.06,224.31 L64.23,223.02 L66.39,221.75 L68.56,220.5 L70.73,219.28 L72.89,218.07 L75.06,216.88 L77.23,215.72 L79.39,214.57 L81.56,213.44 L83.72,212.33 L85.89,211.24 L88.06,210.16 L90.22,209.1 L92.39,208.06 L94.55,207.04 L96.72,206.03 L98.89,205.03 L101.05,204.05 L103.22,203.09 L105.38,202.14 L107.55,201.2 L109.72,200.28 L111.88,199.37 L114.05,198.47 L116.22,197.59 L118.38,196.72 L120.55,195.86 L122.71,195.01 L124.88,194.17 L127.05,193.35 L129.21,192.54 L131.38,191.73 L133.54,190.94 L135.71,190.16 L137.88,189.39 L140.04,188.62 L142.21,187.87 L144.37,187.13 L146.54,186.39 L148.71,185.67 L150.87,184.95 L153.04,184.24 L155.21,183.54 L157.37,182.85 L159.54,182.16 L161.7,181.49 L163.87,180.82 L166.04,180.15 L168.2,179.5 L170.37,178.85 L172.53,178.21 L174.7,177.57" class="c"/>
<path d="M46.9,233.1 L49.07,232.39 L51.23,231.15 L53.4,229.85 L55.56,228.58 L57.73,227.36 L59.9,226.18 L62.06,225.04 L64.23,223.95 L66.39,222.89 L68.56,221.88 L70.73,220.9 L72.89,219.95 L75.06,219.04 L77.23,218.16 L79.39,217.31 L81.56,216.48 L83.72,215.68 L85.89,214.91 L88.06,214.16 L90.22,213.44 L92.39,212.73 L94.55,212.05 L96.72,211.39 L98.89,210.74 L101.05,210.12 L103.22,209.51 L105.38,208.91 L107.55,208.33 L109.72,207.77 L111.88,207.22 L114.05,206.68 L116.22,206.15 L118.38,205.64 L120.55,205.14 L122.71,204.64 L124.88,204.16 L127.05,203.69 L129.21,203.23 L131.38,202.77 L133.54,202.33 L135.71,201.89 L137.88,201.46 L140.04,201.03 L142.21,200.61 L144.37,200.2 L146.54,199.8 L148.71,199.4 L150.87,199.01 L153.04,198.62 L155.21,198.23 L157.37,197.86 L159.54,197.48 L161.7,197.11 L163.87,196.75 L166.04,196.38 L168.2,196.03 L170.37,195.67 L172.53,195.32 L174.7,194.97" class="c"/>
<path d="M46.9,233.1 L49.07,232.39 L51.23,231.17 L53.4,229.94 L55.56,228.78 L57.73,227.71 L59.9,226.72 L62.06,225.8 L64.23,224.94 L66.39,224.15 L68.56,223.42 L70.73,222.74 L72.89,222.1 L75.06,221.51 L77.23,220.96 L79.39,220.44 L81.56,219.96 L83.72,219.51 L85.89,219.08 L88.06,218.69 L90.22,218.31 L92.39,217.96 L94.55,217.63 L96.72,217.31 L98.89,217.02 L101.05,216.73 L103.22,216.47 L105.38,216.21 L107.55,215.97 L109.72,215.73 L111.88,215.51 L114.05,215.3 L116.22,215.09 L118.38,214.89 L120.55,214.7 L122.71,214.52 L124.88,214.34 L127.05,214.16 L129.21,213.99 L131.38,213.83 L133.54,213.67 L135.71,213.51 L137.88,213.36 L140.04,213.21 L142.21,213.06 L144.37,212.92 L146.54,212.78 L148.71,212.64 L150.87,212.5 L153.04,212.36 L155.21,212.23 L157.37,212.1 L159.54,211.97 L161.7,211.84 L163.87,211.71 L166.04,211.58 L168.2,211.46 L170.37,211.33 L172.53,211.21 L174.7,211.08" class="c"/>
<path d="M46.9,233.1h4.4 M46.9,222.92h3.3 M46.9,212.74h4.4 M46.9,202.56h3.3 M46.9,192.38h4.4 M46.9,182.2h3.3 M46.9,172.02h4.4 M46.9,161.84h3.3 M46.9,151.66h4.4 M46.9,141.48h3.3 M46.9,233.1v-3.6 M60.5,233.1v-2.3 M74.1,233.1v-3.6 M87.7,233.1v-2.3 M101.3,233.1v-3.6 M114.9,233.1v-2.3 M128.5,233.1v-3.6 M142.1,233.1v-2.3 M155.7,233.1v-3.6 M169.3,233.1v-2.3" class="t"/>
<rect x="46.9" y="134.2" width="127.8" height="98.9" class="fr"/>
<text transform="translate(39.9,236.9) scale(1,1.07)" class="yl">0</text>
<text transform="translate(39.9,216.54) scale(1,1.07)" class="yl">40</text>
<text transform="translate(39.9,196.18) scale(1,1.07)" class="yl">80</text>
<text transform="translate(39.9,175.82) scale(1,1.07)" class="yl">120</text>
<text transform="translate(39.9,155.46) scale(1,1.07)" class="yl">160</text>
<text transform="translate(46.1,248.6) scale(1,1.07)" class="xl">0</text>
<text transform="translate(73.3,248.6) scale(1,1.07)" class="xl">10</text>
<text transform="translate(100.5,248.6) scale(1,1.07)" class="xl">20</text>
<text transform="translate(127.7,248.6) scale(1,1.07)" class="xl">30</text>
<text transform="translate(154.9,248.6) scale(1,1.07)" class="xl">40</text>
<text x="58.7" y="156.6" class="ti">C3</text>
<path d="M201,233.3 L203.16,232.52 L205.33,231.12 L207.49,229.6 L209.66,228.05 L211.82,226.49 L213.99,224.94 L216.15,223.39 L218.32,221.84 L220.48,220.29 L222.64,218.75 L224.81,217.2 L226.97,215.66 L229.14,214.13 L231.3,212.59 L233.47,211.06 L235.63,209.52 L237.79,207.99 L239.96,206.47 L242.12,204.94 L244.29,203.42 L246.45,201.9 L248.62,200.38 L250.78,198.86 L252.95,197.34 L255.11,195.83 L257.27,194.32 L259.44,192.81 L261.6,191.31 L263.77,189.8 L265.93,188.3 L268.1,186.8 L270.26,185.3 L272.43,183.8 L274.59,182.31 L276.75,180.82 L278.92,179.33 L281.08,177.84 L283.25,176.35 L285.41,174.87 L287.58,173.39 L289.74,171.91 L291.91,170.43 L294.07,168.95 L296.23,167.48 L298.4,166.01 L300.56,164.54 L302.73,163.07 L304.89,161.61 L307.06,160.14 L309.22,158.68 L311.38,157.22 L313.55,155.76 L315.71,154.31 L317.88,152.86 L320.04,151.4 L322.21,149.95 L324.37,148.51 L326.54,147.06 L328.7,145.62" class="c"/>
<path d="M201,233.3 L203.16,232.49 L205.33,231.02 L207.49,229.44 L209.66,227.84 L211.82,226.24 L213.99,224.66 L216.15,223.09 L218.32,221.53 L220.48,219.98 L222.64,218.44 L224.81,216.91 L226.97,215.39 L229.14,213.89 L231.3,212.39 L233.47,210.91 L235.63,209.44 L237.79,207.97 L239.96,206.52 L242.12,205.08 L244.29,203.65 L246.45,202.23 L248.62,200.82 L250.78,199.42 L252.95,198.03 L255.11,196.65 L257.27,195.28 L259.44,193.92 L261.6,192.57 L263.77,191.23 L265.93,189.89 L268.1,188.57 L270.26,187.26 L272.43,185.96 L274.59,184.67 L276.75,183.38 L278.92,182.11 L281.08,180.84 L283.25,179.59 L285.41,178.34 L287.58,177.1 L289.74,175.87 L291.91,174.65 L294.07,173.44 L296.23,172.24 L298.4,171.05 L300.56,169.86 L302.73,168.69 L304.89,167.52 L307.06,166.36 L309.22,165.21 L311.38,164.07 L313.55,162.93 L315.71,161.81 L317.88,160.69 L320.04,159.58 L322.21,158.48 L324.37,157.38 L326.54,156.29 L328.7,155.22" class="c"/>
<path d="M201,233.3 L203.16,232.47 L205.33,231 L207.49,229.4 L209.66,227.8 L211.82,226.2 L213.99,224.63 L216.15,223.07 L218.32,221.54 L220.48,220.02 L222.64,218.51 L224.81,217.03 L226.97,215.56 L229.14,214.11 L231.3,212.68 L233.47,211.26 L235.63,209.86 L237.79,208.48 L239.96,207.11 L242.12,205.76 L244.29,204.43 L246.45,203.11 L248.62,201.8 L250.78,200.51 L252.95,199.24 L255.11,197.98 L257.27,196.74 L259.44,195.51 L261.6,194.29 L263.77,193.09 L265.93,191.9 L268.1,190.73 L270.26,189.57 L272.43,188.42 L274.59,187.29 L276.75,186.17 L278.92,185.06 L281.08,183.97 L283.25,182.89 L285.41,181.82 L287.58,180.76 L289.74,179.72 L291.91,178.69 L294.07,177.67 L296.23,176.66 L298.4,175.67 L300.56,174.68 L302.73,173.71 L304.89,172.75 L307.06,171.8 L309.22,170.86 L311.38,169.93 L313.55,169.01 L315.71,168.11 L317.88,167.21 L320.04,166.33 L322.21,165.45 L324.37,164.59 L326.54,163.73 L328.7,162.89" class="c"/>
<path d="M201,233.3 L203.16,232.45 L205.33,230.94 L207.49,229.32 L209.66,227.7 L211.82,226.1 L213.99,224.52 L216.15,222.98 L218.32,221.46 L220.48,219.96 L222.64,218.49 L224.81,217.05 L226.97,215.63 L229.14,214.24 L231.3,212.87 L233.47,211.52 L235.63,210.19 L237.79,208.89 L239.96,207.61 L242.12,206.36 L244.29,205.12 L246.45,203.91 L248.62,202.71 L250.78,201.54 L252.95,200.39 L255.11,199.25 L257.27,198.14 L259.44,197.04 L261.6,195.97 L263.77,194.91 L265.93,193.87 L268.1,192.85 L270.26,191.84 L272.43,190.86 L274.59,189.89 L276.75,188.93 L278.92,188 L281.08,187.08 L283.25,186.17 L285.41,185.28 L287.58,184.41 L289.74,183.55 L291.91,182.7 L294.07,181.87 L296.23,181.06 L298.4,180.25 L300.56,179.47 L302.73,178.69 L304.89,177.93 L307.06,177.18 L309.22,176.45 L311.38,175.72 L313.55,175.01 L315.71,174.31 L317.88,173.63 L320.04,172.95 L322.21,172.29 L324.37,171.64 L326.54,171 L328.7,170.37" class="c"/>
<path d="M201,233.3 L203.16,232.55 L205.33,231.24 L207.49,229.85 L209.66,228.47 L211.82,227.13 L213.99,225.83 L216.15,224.57 L218.32,223.34 L220.48,222.15 L222.64,220.99 L224.81,219.86 L226.97,218.76 L229.14,217.7 L231.3,216.66 L233.47,215.64 L235.63,214.66 L237.79,213.69 L239.96,212.75 L242.12,211.83 L244.29,210.94 L246.45,210.06 L248.62,209.21 L250.78,208.37 L252.95,207.55 L255.11,206.75 L257.27,205.96 L259.44,205.19 L261.6,204.44 L263.77,203.7 L265.93,202.97 L268.1,202.26 L270.26,201.56 L272.43,200.87 L274.59,200.2 L276.75,199.53 L278.92,198.88 L281.08,198.23 L283.25,197.6 L285.41,196.97 L287.58,196.36 L289.74,195.75 L291.91,195.15 L294.07,194.56 L296.23,193.97 L298.4,193.39 L300.56,192.82 L302.73,192.26 L304.89,191.7 L307.06,191.15 L309.22,190.61 L311.38,190.07 L313.55,189.53 L315.71,189 L317.88,188.48 L320.04,187.96 L322.21,187.44 L324.37,186.93 L326.54,186.42 L328.7,185.92" class="c"/>
<path d="M201,233.3 L203.16,232.46 L205.33,231.02 L207.49,229.53 L209.66,228.11 L211.82,226.77 L213.99,225.51 L216.15,224.33 L218.32,223.21 L220.48,222.16 L222.64,221.18 L224.81,220.25 L226.97,219.38 L229.14,218.55 L231.3,217.78 L233.47,217.05 L235.63,216.35 L237.79,215.7 L239.96,215.08 L242.12,214.5 L244.29,213.95 L246.45,213.42 L248.62,212.93 L250.78,212.46 L252.95,212.01 L255.11,211.58 L257.27,211.18 L259.44,210.79 L261.6,210.43 L263.77,210.08 L265.93,209.74 L268.1,209.42 L270.26,209.12 L272.43,208.82 L274.59,208.54 L276.75,208.27 L278.92,208.01 L281.08,207.76 L283.25,207.52 L285.41,207.29 L287.58,207.06 L289.74,206.85 L291.91,206.64 L294.07,206.43 L296.23,206.24 L298.4,206.05 L300.56,205.86 L302.73,205.68 L304.89,205.5 L307.06,205.33 L309.22,205.16 L311.38,205 L313.55,204.83 L315.71,204.68 L317.88,204.52 L320.04,204.37 L322.21,204.22 L324.37,204.07 L326.54,203.93 L328.7,203.79" class="c"/>
<path d="M201,233.3 L203.16,232.57 L205.33,231.37 L207.49,230.2 L209.66,229.14 L211.82,228.19 L213.99,227.35 L216.15,226.6 L218.32,225.93 L220.48,225.33 L222.64,224.79 L224.81,224.3 L226.97,223.86 L229.14,223.46 L231.3,223.09 L233.47,222.76 L235.63,222.45 L237.79,222.17 L239.96,221.91 L242.12,221.67 L244.29,221.44 L246.45,221.22 L248.62,221.02 L250.78,220.83 L252.95,220.65 L255.11,220.47 L257.27,220.31 L259.44,220.15 L261.6,219.99 L263.77,219.84 L265.93,219.69 L268.1,219.55 L270.26,219.41 L272.43,219.28 L274.59,219.14 L276.75,219.01 L278.92,218.88 L281.08,218.75 L283.25,218.62 L285.41,218.5 L287.58,218.37 L289.74,218.25 L291.91,218.13 L294.07,218 L296.23,217.88 L298.4,217.76 L300.56,217.64 L302.73,217.52 L304.89,217.4 L307.06,217.28 L309.22,217.16 L311.38,217.04 L313.55,216.92 L315.71,216.8 L317.88,216.69 L320.04,216.57 L322.21,216.45 L324.37,216.33 L326.54,216.21 L328.7,216.1" class="c"/>
<path d="M201,233.3 L203.16,232.59 L205.33,231.47 L207.49,230.46 L209.66,229.61 L211.82,228.91 L213.99,228.33 L216.15,227.86 L218.32,227.46 L220.48,227.13 L222.64,226.86 L224.81,226.62 L226.97,226.43 L229.14,226.26 L231.3,226.12 L233.47,225.99 L235.63,225.88 L237.79,225.78 L239.96,225.7 L242.12,225.62 L244.29,225.55 L246.45,225.48 L248.62,225.42 L250.78,225.36 L252.95,225.31 L255.11,225.25 L257.27,225.2 L259.44,225.16 L261.6,225.11 L263.77,225.06 L265.93,225.02 L268.1,224.97 L270.26,224.93 L272.43,224.88 L274.59,224.84 L276.75,224.79 L278.92,224.75 L281.08,224.71 L283.25,224.67 L285.41,224.62 L287.58,224.58 L289.74,224.54 L291.91,224.5 L294.07,224.45 L296.23,224.41 L298.4,224.37 L300.56,224.33 L302.73,224.29 L304.89,224.24 L307.06,224.2 L309.22,224.16 L311.38,224.12 L313.55,224.08 L315.71,224.03 L317.88,223.99 L320.04,223.95 L322.21,223.91 L324.37,223.86 L326.54,223.82 L328.7,223.78" class="c"/>
<path d="M201,233.3h4.4 M201,223.1h3.3 M201,212.9h4.4 M201,202.7h3.3 M201,192.5h4.4 M201,182.3h3.3 M201,172.1h4.4 M201,161.9h3.3 M201,151.7h4.4 M201,141.5h3.3 M201,233.3v-3.6 M214.7,233.3v-2.3 M228.4,233.3v-3.6 M242.1,233.3v-2.3 M255.8,233.3v-3.6 M269.5,233.3v-2.3 M283.2,233.3v-3.6 M296.9,233.3v-2.3 M310.6,233.3v-3.6 M324.3,233.3v-2.3" class="t"/>
<rect x="201" y="134" width="127.7" height="99.3" class="fr"/>
<text transform="translate(194.6,237.1) scale(1,1.07)" class="yl">0</text>
<text transform="translate(194.6,216.7) scale(1,1.07)" class="yl">40</text>
<text transform="translate(194.6,196.3) scale(1,1.07)" class="yl">80</text>
<text transform="translate(194.6,175.9) scale(1,1.07)" class="yl">120</text>
<text transform="translate(194.6,155.5) scale(1,1.07)" class="yl">160</text>
<text transform="translate(200.2,248.6) scale(1,1.07)" class="xl">0</text>
<text transform="translate(227.6,248.6) scale(1,1.07)" class="xl">10</text>
<text transform="translate(255,248.6) scale(1,1.07)" class="xl">20</text>
<text transform="translate(282.4,248.6) scale(1,1.07)" class="xl">30</text>
<text transform="translate(309.8,248.6) scale(1,1.07)" class="xl">40</text>
<text x="212.2" y="156.6" class="ti"><tspan class="dl">&#916;</tspan>K3</text>
<path d="M368.7,230.4 L370.81,229.6 L372.92,228.17 L375.03,226.6 L377.14,225.02 L379.25,223.43 L381.36,221.84 L383.47,220.25 L385.58,218.67 L387.69,217.08 L389.8,215.5 L391.91,213.92 L394.02,212.34 L396.13,210.76 L398.24,209.18 L400.35,207.61 L402.46,206.04 L404.57,204.47 L406.68,202.9 L408.79,201.33 L410.9,199.77 L413.01,198.2 L415.12,196.64 L417.23,195.08 L419.34,193.52 L421.45,191.96 L423.56,190.41 L425.67,188.85 L427.78,187.3 L429.89,185.75 L432.01,184.2 L434.12,182.65 L436.23,181.11 L438.34,179.56 L440.45,178.02 L442.56,176.48 L444.67,174.94 L446.78,173.41 L448.89,171.87 L451,170.34 L453.11,168.8 L455.22,167.27 L457.33,165.74 L459.44,164.22 L461.55,162.69 L463.66,161.17 L465.77,159.65 L467.88,158.12 L469.99,156.61 L472.1,155.09 L474.21,153.57 L476.32,152.06 L478.43,150.55 L480.54,149.04 L482.65,147.53 L484.76,146.02 L486.87,144.51 L488.98,143.01 L491.09,141.51 L493.2,140" class="c"/>
<path d="M368.7,230.4 L370.81,229.58 L372.92,228.11 L375.03,226.51 L377.14,224.9 L379.25,223.3 L381.36,221.7 L383.47,220.12 L385.58,218.54 L387.69,216.97 L389.8,215.41 L391.91,213.86 L394.02,212.33 L396.13,210.8 L398.24,209.28 L400.35,207.77 L402.46,206.27 L404.57,204.77 L406.68,203.29 L408.79,201.82 L410.9,200.35 L413.01,198.9 L415.12,197.45 L417.23,196.01 L419.34,194.58 L421.45,193.16 L423.56,191.75 L425.67,190.35 L427.78,188.96 L429.89,187.57 L432.01,186.19 L434.12,184.83 L436.23,183.47 L438.34,182.11 L440.45,180.77 L442.56,179.44 L444.67,178.11 L446.78,176.79 L448.89,175.48 L451,174.18 L453.11,172.89 L455.22,171.6 L457.33,170.32 L459.44,169.05 L461.55,167.79 L463.66,166.53 L465.77,165.29 L467.88,164.05 L469.99,162.81 L472.1,161.59 L474.21,160.37 L476.32,159.16 L478.43,157.96 L480.54,156.77 L482.65,155.58 L484.76,154.4 L486.87,153.23 L488.98,152.06 L491.09,150.91 L493.2,149.76" class="c"/>
<path d="M368.7,230.4 L370.81,229.59 L372.92,228.14 L375.03,226.58 L377.14,225 L379.25,223.42 L381.36,221.86 L383.47,220.3 L385.58,218.76 L387.69,217.23 L389.8,215.71 L391.91,214.2 L394.02,212.7 L396.13,211.21 L398.24,209.73 L400.35,208.26 L402.46,206.8 L404.57,205.36 L406.68,203.92 L408.79,202.49 L410.9,201.08 L413.01,199.67 L415.12,198.27 L417.23,196.89 L419.34,195.51 L421.45,194.14 L423.56,192.79 L425.67,191.44 L427.78,190.1 L429.89,188.77 L432.01,187.45 L434.12,186.14 L436.23,184.84 L438.34,183.55 L440.45,182.27 L442.56,181 L444.67,179.73 L446.78,178.48 L448.89,177.23 L451,176 L453.11,174.77 L455.22,173.55 L457.33,172.34 L459.44,171.14 L461.55,169.94 L463.66,168.76 L465.77,167.58 L467.88,166.41 L469.99,165.25 L472.1,164.1 L474.21,162.96 L476.32,161.82 L478.43,160.69 L480.54,159.57 L482.65,158.46 L484.76,157.36 L486.87,156.26 L488.98,155.18 L491.09,154.1 L493.2,153.02" class="c"/>
<path d="M368.7,230.4 L370.81,229.57 L372.92,228.1 L375.03,226.51 L377.14,224.92 L379.25,223.33 L381.36,221.77 L383.47,220.22 L385.58,218.69 L387.69,217.17 L389.8,215.68 L391.91,214.2 L394.02,212.74 L396.13,211.29 L398.24,209.86 L400.35,208.45 L402.46,207.05 L404.57,205.67 L406.68,204.3 L408.79,202.95 L410.9,201.62 L413.01,200.3 L415.12,198.99 L417.23,197.71 L419.34,196.43 L421.45,195.17 L423.56,193.92 L425.67,192.69 L427.78,191.47 L429.89,190.27 L432.01,189.08 L434.12,187.9 L436.23,186.74 L438.34,185.59 L440.45,184.45 L442.56,183.33 L444.67,182.22 L446.78,181.12 L448.89,180.03 L451,178.96 L453.11,177.9 L455.22,176.85 L457.33,175.81 L459.44,174.79 L461.55,173.77 L463.66,172.77 L465.77,171.78 L467.88,170.8 L469.99,169.83 L472.1,168.87 L474.21,167.93 L476.32,166.99 L478.43,166.07 L480.54,165.15 L482.65,164.25 L484.76,163.35 L486.87,162.47 L488.98,161.59 L491.09,160.73 L493.2,159.88" class="c"/>
<path d="M368.7,230.4 L370.81,229.63 L372.92,228.27 L375.03,226.82 L377.14,225.38 L379.25,223.97 L381.36,222.59 L383.47,221.24 L385.58,219.91 L387.69,218.62 L389.8,217.36 L391.91,216.12 L394.02,214.91 L396.13,213.73 L398.24,212.57 L400.35,211.43 L402.46,210.32 L404.57,209.23 L406.68,208.16 L408.79,207.11 L410.9,206.08 L413.01,205.07 L415.12,204.08 L417.23,203.11 L419.34,202.15 L421.45,201.22 L423.56,200.29 L425.67,199.39 L427.78,198.5 L429.89,197.63 L432.01,196.77 L434.12,195.92 L436.23,195.09 L438.34,194.27 L440.45,193.46 L442.56,192.67 L444.67,191.89 L446.78,191.11 L448.89,190.35 L451,189.61 L453.11,188.87 L455.22,188.14 L457.33,187.42 L459.44,186.71 L461.55,186.01 L463.66,185.32 L465.77,184.64 L467.88,183.96 L469.99,183.29 L472.1,182.64 L474.21,181.98 L476.32,181.34 L478.43,180.7 L480.54,180.07 L482.65,179.45 L484.76,178.83 L486.87,178.22 L488.98,177.61 L491.09,177.01 L493.2,176.42" class="c"/>
<path d="M368.7,230.4 L370.81,229.64 L372.92,228.32 L375.03,226.95 L377.14,225.62 L379.25,224.35 L381.36,223.14 L383.47,221.98 L385.58,220.86 L387.69,219.8 L389.8,218.78 L391.91,217.81 L394.02,216.87 L396.13,215.97 L398.24,215.11 L400.35,214.27 L402.46,213.47 L404.57,212.7 L406.68,211.96 L408.79,211.24 L410.9,210.54 L413.01,209.86 L415.12,209.21 L417.23,208.58 L419.34,207.96 L421.45,207.37 L423.56,206.78 L425.67,206.22 L427.78,205.67 L429.89,205.13 L432.01,204.6 L434.12,204.09 L436.23,203.59 L438.34,203.1 L440.45,202.61 L442.56,202.14 L444.67,201.68 L446.78,201.22 L448.89,200.77 L451,200.33 L453.11,199.89 L455.22,199.47 L457.33,199.04 L459.44,198.63 L461.55,198.21 L463.66,197.81 L465.77,197.4 L467.88,197.01 L469.99,196.61 L472.1,196.22 L474.21,195.84 L476.32,195.45 L478.43,195.07 L480.54,194.7 L482.65,194.32 L484.76,193.95 L486.87,193.58 L488.98,193.21 L491.09,192.85 L493.2,192.48" class="c"/>
<path d="M368.7,230.4 L370.81,229.65 L372.92,228.39 L375.03,227.16 L377.14,226.04 L379.25,225.02 L381.36,224.11 L383.47,223.28 L385.58,222.53 L387.69,221.86 L389.8,221.24 L391.91,220.68 L394.02,220.17 L396.13,219.69 L398.24,219.26 L400.35,218.86 L402.46,218.49 L404.57,218.14 L406.68,217.82 L408.79,217.52 L410.9,217.23 L413.01,216.96 L415.12,216.71 L417.23,216.46 L419.34,216.23 L421.45,216.01 L423.56,215.8 L425.67,215.59 L427.78,215.39 L429.89,215.19 L432.01,215.01 L434.12,214.82 L436.23,214.64 L438.34,214.46 L440.45,214.29 L442.56,214.12 L444.67,213.95 L446.78,213.79 L448.89,213.62 L451,213.46 L453.11,213.3 L455.22,213.14 L457.33,212.98 L459.44,212.82 L461.55,212.67 L463.66,212.51 L465.77,212.35 L467.88,212.2 L469.99,212.05 L472.1,211.89 L474.21,211.74 L476.32,211.59 L478.43,211.43 L480.54,211.28 L482.65,211.13 L484.76,210.98 L486.87,210.83 L488.98,210.68 L491.09,210.53 L493.2,210.38" class="c"/>
<path d="M368.7,230.4 L370.81,229.66 L372.92,228.51 L375.03,227.47 L377.14,226.59 L379.25,225.87 L381.36,225.27 L383.47,224.78 L385.58,224.36 L387.69,224.01 L389.8,223.72 L391.91,223.47 L394.02,223.26 L396.13,223.07 L398.24,222.91 L400.35,222.77 L402.46,222.64 L404.57,222.53 L406.68,222.43 L408.79,222.33 L410.9,222.24 L413.01,222.16 L415.12,222.08 L417.23,222 L419.34,221.93 L421.45,221.86 L423.56,221.79 L425.67,221.73 L427.78,221.66 L429.89,221.6 L432.01,221.53 L434.12,221.47 L436.23,221.41 L438.34,221.35 L440.45,221.28 L442.56,221.22 L444.67,221.16 L446.78,221.1 L448.89,221.04 L451,220.98 L453.11,220.92 L455.22,220.86 L457.33,220.8 L459.44,220.74 L461.55,220.68 L463.66,220.62 L465.77,220.56 L467.88,220.5 L469.99,220.44 L472.1,220.38 L474.21,220.32 L476.32,220.26 L478.43,220.2 L480.54,220.14 L482.65,220.08 L484.76,220.02 L486.87,219.96 L488.98,219.9 L491.09,219.84 L493.2,219.78" class="c"/>
<path d="M368.7,230.4h4.4 M368.7,220.45h3.3 M368.7,210.5h4.4 M368.7,200.55h3.3 M368.7,190.6h4.4 M368.7,180.65h3.3 M368.7,170.7h4.4 M368.7,160.75h3.3 M368.7,150.8h4.4 M368.7,140.85h3.3 M368.7,230.4v-3.6 M381.93,230.4v-2.3 M395.15,230.4v-3.6 M408.38,230.4v-2.3 M421.6,230.4v-3.6 M434.82,230.4v-2.3 M448.05,230.4v-3.6 M461.27,230.4v-2.3 M474.5,230.4v-3.6 M487.73,230.4v-2.3" class="t"/>
<rect x="368.7" y="134" width="124.5" height="96.4" class="fr"/>
<text transform="translate(361.9,234.2) scale(1,1.07)" class="yl">0</text>
<text transform="translate(361.9,214.3) scale(1,1.07)" class="yl">40</text>
<text transform="translate(361.9,194.4) scale(1,1.07)" class="yl">80</text>
<text transform="translate(361.9,174.5) scale(1,1.07)" class="yl">120</text>
<text transform="translate(361.9,154.6) scale(1,1.07)" class="yl">160</text>
<text transform="translate(367.9,245.3) scale(1,1.07)" class="xl">0</text>
<text transform="translate(394.35,245.3) scale(1,1.07)" class="xl">10</text>
<text transform="translate(420.8,245.3) scale(1,1.07)" class="xl">20</text>
<text transform="translate(447.25,245.3) scale(1,1.07)" class="xl">30</text>
<text transform="translate(473.7,245.3) scale(1,1.07)" class="xl">40</text>
<text x="379.6" y="156.6" class="ti" textLength="31.4" lengthAdjust="spacingAndGlyphs">K3P1</text>
<text class="ax" style="font-size:13.6px" transform="translate(11.4,121.9) rotate(-90)" text-anchor="middle">A405 (mOD)</text>
<text class="ax" style="font-size:13.5px" x="265.8" y="270" text-anchor="middle">Time (min)</text>
<text class="ax" style="font-size:13.65px" transform="translate(509.4,97) rotate(90)" text-anchor="middle">Increasing TFPI</text>
<path d="M500.9,26.3V190" stroke="#000" stroke-width="3.4" fill="none"/>
<path d="M495.8,189 L506.2,189 L501.1,198.7 Z" fill="#000"/>
</svg>
</body></html>
